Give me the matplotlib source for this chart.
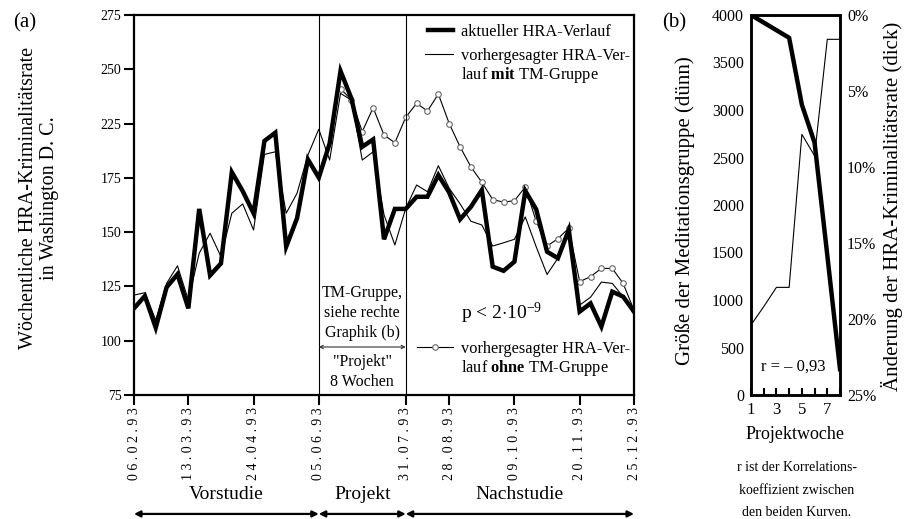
import pandas as pd
import matplotlib
matplotlib.use("Agg")
import matplotlib.pyplot as plt
import matplotlib.dates as mdates
from matplotlib.lines import Line2D
from matplotlib.legend import Legend

plt.rcParams['font.family'] = ['Liberation Serif', 'DejaVu Serif']
plt.rcParams['mathtext.fontset'] = 'custom'
plt.rcParams['mathtext.rm'] = 'Liberation Serif'
plt.rcParams['mathtext.bf'] = 'Liberation Serif:bold'
plt.rcParams['mathtext.it'] = 'Liberation Serif:italic'

# --- (a) weekly HRA crime, 06.02.93 - 25.12.93 ---
weeks = pd.date_range("1993-02-06", "1993-12-25", freq="7D")

hra_actual = [114.9, 120.6, 106.0, 124.6, 130.6, 114.9, 160.7, 130.1, 135.6, 177.6,
              168.9, 158.7, 192.0, 195.8, 143.3, 156.4, 183.5, 175.1, 190.9, 224.2,
              211.6, 189.3, 192.7, 146.7, 160.7, 160.7, 166.3, 166.3, 176.3, 168.2,
              155.9, 161.7, 169.4, 134.1, 132.2, 136.4, 169.0, 160.5, 141.0, 138.0,
              151.0, 113.4, 117.2, 106.5, 122.6, 120.3, 113.4]

hra_with_tm = [121.0, 122.1, 109.5, 126.4, 134.5, 118.7, 140.3, 149.5, 138.7, 158.7,
               163.0, 151.0, 185.8, 187.0, 158.7, 167.9, 185.5, 197.4, 183.2, 213.9,
               210.8, 183.2, 187.0, 158.0, 144.1, 161.0, 171.7, 168.6, 180.6, 170.2,
               163.0, 155.0, 153.3, 143.6, 145.1, 146.7, 157.0, 143.3, 130.5, 138.0,
               151.8, 116.4, 120.0, 127.0, 126.4, 120.3, 114.1]

# predicted without TM group, starts 19.06.93
without_start = "1993-06-19"
hra_without_tm = [216.0, 211.0, 196.3, 207.3, 194.7, 191.2, 202.9, 209.3, 205.8, 213.6,
                  200.0, 189.3, 180.0, 173.0, 165.0, 163.8, 164.5, 170.8, 155.0, 143.6,
                  147.0, 151.8, 127.2, 129.5, 133.3, 133.3, 126.4, 114.1]

date_ticks = ["06.02.93", "13.03.93", "24.04.93", "05.06.93", "31.07.93",
              "28.08.93", "09.10.93", "20.11.93", "25.12.93"]
y_ticks = [75, 100, 125, 150, 175, 200, 225, 250]
y_tick_labels = ["75", "100", "125", "150", "175", "225", "250", "275"]

project_start = "1993-06-05"
project_end = "1993-07-31"
phases = ["Vorstudie", "Projekt", "Nachstudie"]

# --- (b) project weeks ---
project_week = [1, 2, 3, 4, 5, 6, 7, 8]
group_size = [737, 930, 1133, 1133, 2744, 2519, 3744, 3744]
crime_change = [0.0, 0.5, 1.0, 1.5, 5.9, 8.4, 15.8, 23.3]

fig = plt.figure(figsize=(9.06, 5.19), dpi=100)
ax = fig.add_axes([134 / 906, 1 - 395 / 519, 500 / 906, 380 / 519])

x_without = pd.date_range(without_start, periods=len(hra_without_tm), freq="7D")
l_without, = ax.plot(x_without, hra_without_tm, color="black", lw=0.8,
                     marker="o", ms=4, mfc="white", mec="#666666", mew=0.8)
l_with, = ax.plot(weeks, hra_with_tm, color="black", lw=0.8)
l_actual, = ax.plot(weeks, hra_actual, color="black", lw=3.2, solid_joinstyle="miter")

p0 = mdates.date2num(pd.Timestamp(project_start))
p1 = mdates.date2num(pd.Timestamp(project_end))
ax.axvline(p0, color="black", lw=0.8)
ax.axvline(p1, color="black", lw=0.8)

ax.set_xlim(weeks[0], weeks[-1])
ax.set_ylim(75, 250)
ax.set_yticks(y_ticks)
ax.set_yticklabels(y_tick_labels, fontsize=10)
tick_dates = pd.to_datetime(date_ticks, format="%d.%m.%y")
ax.set_xticks(tick_dates)
ax.set_xticklabels([" ".join(d) for d in date_ticks], rotation=90, fontsize=10)
ax.tick_params(axis="both", direction="out", length=7, width=1.5, pad=2)
for s in ax.spines.values():
    s.set_linewidth(1.6)

blank = Line2D([], [], color="none")


def add_legend(handles, labels, x0, ytop, hlen):
    leg = Legend(ax, handles, labels, loc="upper left",
                 bbox_to_anchor=((x0 - 134) / 500, (395 - ytop) / 380),
                 frameon=False, fontsize=11.8, handlelength=hlen,
                 handletextpad=(461 - 453) / 16.4, borderpad=0, borderaxespad=0,
                 labelspacing=0.05, numpoints=1)
    ax.add_artist(leg)


add_legend([l_actual], ["aktueller HRA-Verlauf"], 428, 24, 1.5)
add_legend([l_with, blank], ["vorhergesagter HRA-Ver-", "lauf $\\mathbf{mit}$ TM-Gruppe"],
           425, 48, 1.7)
add_legend([l_without, blank], ["vorhergesagter HRA-Ver-", "lauf $\\mathbf{ohne}$ TM-Gruppe"],
           417, 341, 2.2)

ax.text((461 - 134) / 500, (395 - 313) / 380, "p < 2$\\cdot$10$^{-9}$",
        transform=ax.transAxes, fontsize=14, va="center", ha="left")

mid = (p0 + p1) / 2
tr = ax.get_xaxis_transform()
ax.text(mid, (395 - 313) / 380, "TM-Gruppe,\nsiehe rechte\nGraphik (b)", transform=tr,
        ha="center", va="center", fontsize=11.5, linespacing=1.3)
ax.annotate("", xy=(p0, (395 - 347) / 380), xytext=(p1, (395 - 347) / 380),
            xycoords=tr, textcoords=tr,
            arrowprops=dict(arrowstyle="<->", lw=0.8, color="#333333",
                            shrinkA=0, shrinkB=0, mutation_scale=6))
ax.text(mid, (395 - 372) / 380, "\"Projekt\"\n8 Wochen", transform=tr,
        ha="center", va="center", fontsize=11.5, linespacing=1.25)

# phase arrows below the axis
bounds = [mdates.date2num(weeks[0]), p0, p1, mdates.date2num(weeks[-1])]
for i, name in enumerate(phases):
    ax.annotate("", xy=(bounds[i], -0.313), xytext=(bounds[i + 1], -0.313),
                xycoords=tr, textcoords=tr, annotation_clip=False,
                arrowprops=dict(arrowstyle="<|-|>", lw=1.6, color="black",
                                shrinkA=0, shrinkB=0, mutation_scale=9))
    c = (bounds[i] + bounds[i + 1]) / 2
    ax.text(c, -0.263, name, transform=tr, ha="center", va="center", fontsize=14)

fig.text(13 / 906, 1 - 23 / 519, "(a)", fontsize=15, ha="left", va="center")
fig.text(39 / 906, 1 - 198 / 519, "Wöchentliche HRA-Kriminalitätsrate\nin Washington D. C.",
         rotation=90, ha="center", va="center", fontsize=14.5, linespacing=1.15,
         multialignment="center")

# --- panel (b) ---
bx = fig.add_axes([751 / 906, 1 - 395 / 519, 89 / 906, 380 / 519])
bx.plot(project_week, group_size, color="black", lw=0.8)
bx.set_xlim(1, 8)
bx.set_ylim(0, 4000)
bx.set_yticks(range(0, 4001, 500))
bx.set_xticks(project_week)
bx.set_xticklabels(["1", "", "3", "", "5", "", "7", ""], fontsize=12)
bx.tick_params(axis="x", direction="in", length=5, width=1.5, pad=5)
bx.tick_params(axis="y", length=0, pad=5, labelsize=11.5)
bx.set_xlabel("Projektwoche", fontsize=13, labelpad=6)

bx2 = bx.twinx()
bx2.plot(project_week, crime_change, color="black", lw=3.2)
bx2.set_ylim(25, 0)
bx2.set_yticks(range(0, 26, 5))
bx2.set_yticklabels([f"{v}%" for v in range(0, 26, 5)])
bx2.tick_params(axis="y", length=0, pad=5, labelsize=11.5)
for a in (bx, bx2):
    for s in a.spines.values():
        s.set_linewidth(1.8)

bx.text(0.47, 0.074, "r = – 0,93", transform=bx.transAxes, ha="center", va="center",
        fontsize=12)
fig.text(662 / 906, 1 - 23 / 519, "(b)", fontsize=15, ha="left", va="center")
fig.text(685 / 906, 1 - 211 / 519, "Größe der Meditationsgruppe (dünn)", rotation=90,
         ha="center", va="center", fontsize=15)
fig.text(892 / 906, 1 - 206 / 519, "Änderung der HRA-Kriminalitätsrate (dick)", rotation=90,
         ha="center", va="center", fontsize=15)
fig.text(797 / 906, 1 - 490 / 519, "r ist der Korrelations-\nkoeffizient zwischen\nden beiden Kurven.",
         ha="center", va="center", fontsize=10, linespacing=1.95)

fig.savefig("out.png", dpi=100)
